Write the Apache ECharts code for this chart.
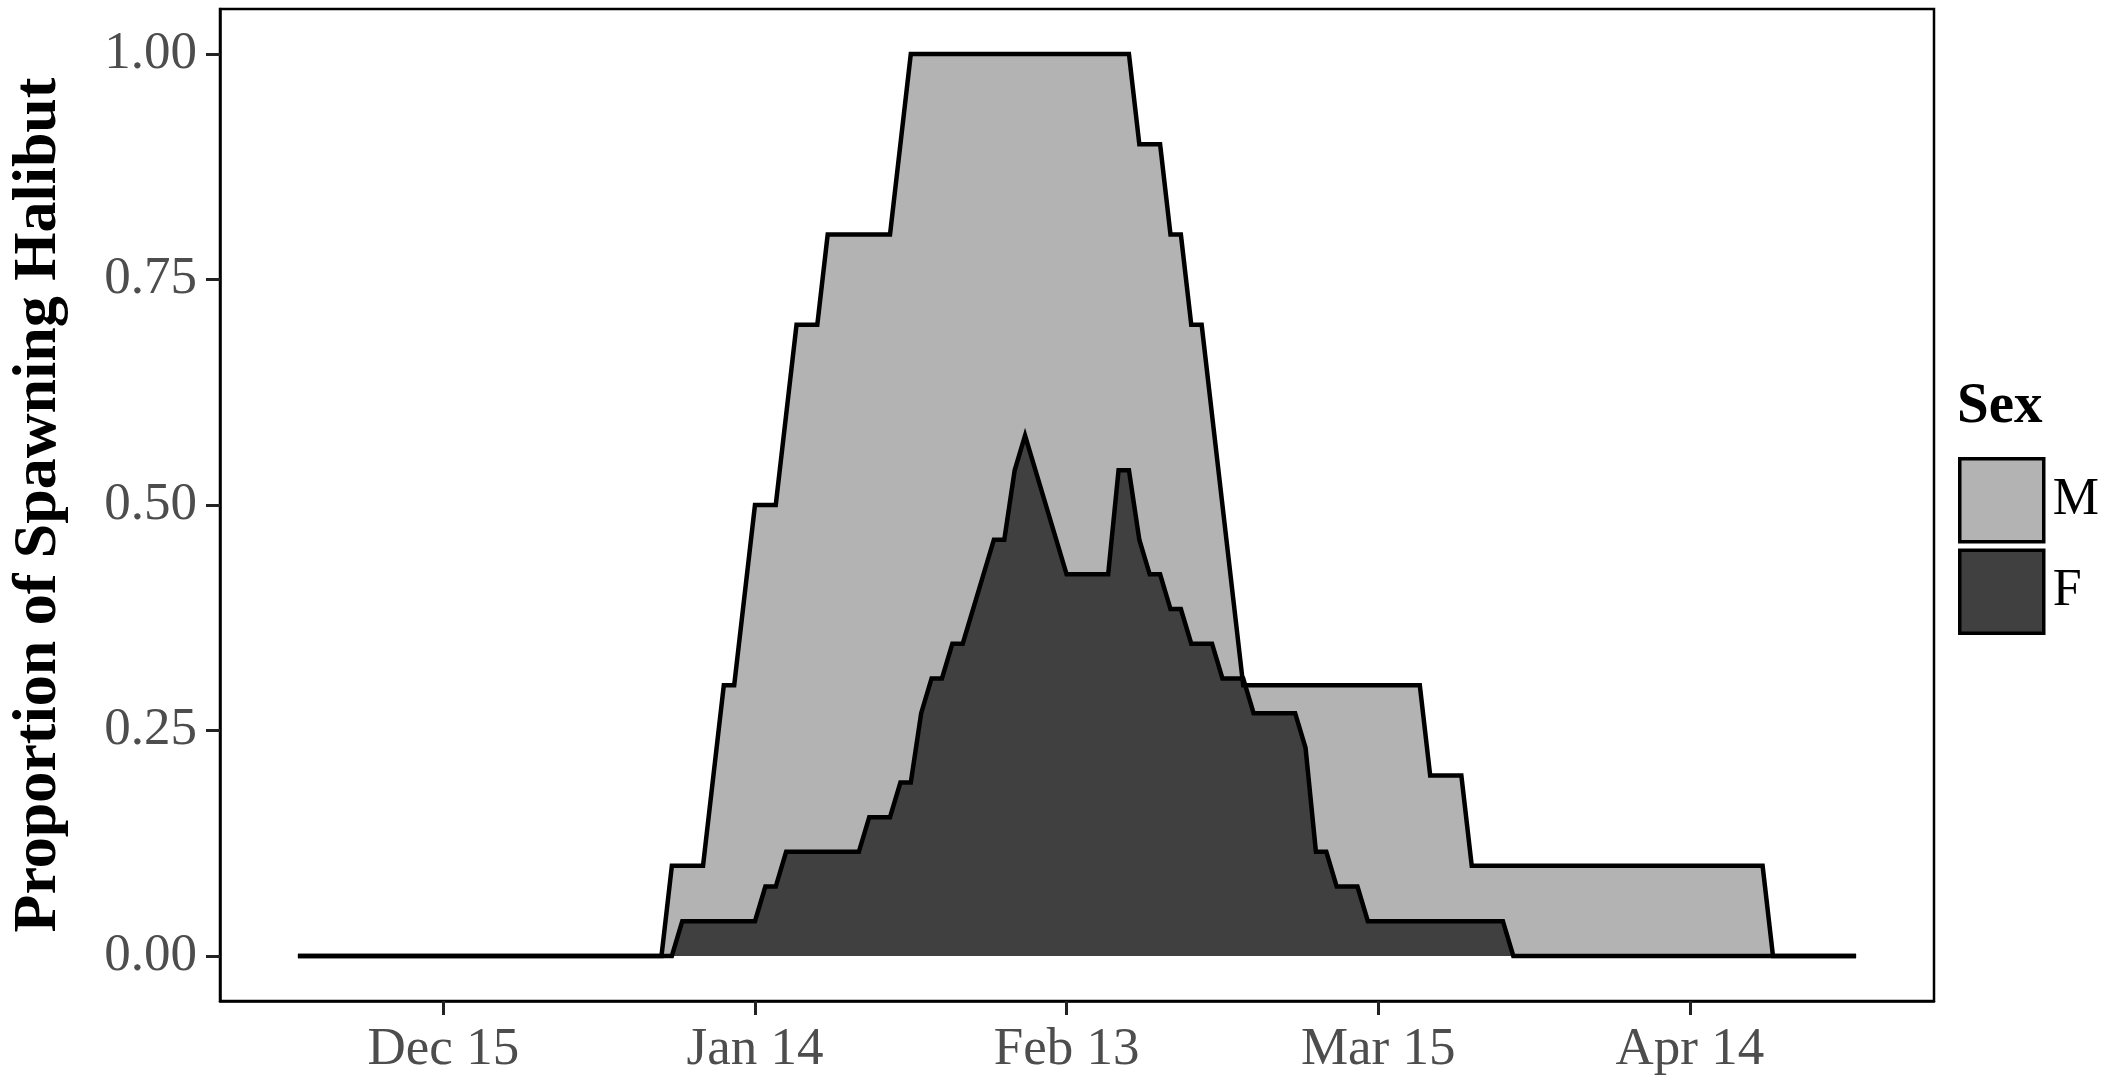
<!DOCTYPE html>
<html><head><meta charset="utf-8">
<script src="https://cdn.jsdelivr.net/npm/echarts@6/dist/echarts.min.js"></script>
<style>html,body{margin:0;padding:0;background:#fff}#c{width:2128px;height:1084px}</style>
</head><body><div id="c"></div>
<script>
// x = days counted from Dec 15 (negative = earlier in December)
const tickDays = [0, 30, 60, 90, 120];
const tickLabels = ['Dec 15', 'Jan 14', 'Feb 13', 'Mar 15', 'Apr 14'];
const yTicks = [0, 0.25, 0.5, 0.75, 1];
const yTickLabels = ['0.00', '0.25', '0.50', '0.75', '1.00'];

// Male: vertices of the proportion curve
const maleDays = [-14, 21, 22, 25, 27, 28, 30, 32, 34, 36, 37, 43, 45, 66, 67, 69, 70, 71, 72, 73, 77, 94, 95, 98, 99, 127, 128, 136];
const maleProp = [0, 0, 0.1, 0.1, 0.3, 0.3, 0.5, 0.5, 0.7, 0.7, 0.8, 0.8, 1.0, 1.0, 0.9, 0.9, 0.8, 0.8, 0.7, 0.7, 0.3, 0.3, 0.2, 0.2, 0.1, 0.1, 0, 0];

// Female: vertices of the proportion curve
const femaleDays = [-14, 22, 23, 30, 31, 32, 33, 40, 41, 43, 44, 45, 46, 47, 48, 49, 50, 53, 54, 55, 56, 60, 64, 65, 66, 67, 68, 69, 70, 71, 72, 74, 75, 77, 78, 82, 83, 84, 85, 86, 88, 89, 102, 103, 136];
const femaleProp = [0, 0, 0.0385, 0.0385, 0.0769, 0.0769, 0.1154, 0.1154, 0.1538, 0.1538, 0.1923, 0.1923, 0.2692, 0.3077, 0.3077, 0.3462, 0.3462, 0.4615, 0.4615, 0.5385, 0.5769, 0.4231, 0.4231, 0.5385, 0.5385, 0.4615, 0.4231, 0.4231, 0.3846, 0.3846, 0.3462, 0.3462, 0.3077, 0.3077, 0.2692, 0.2692, 0.2308, 0.1154, 0.1154, 0.0769, 0.0769, 0.0385, 0.0385, 0, 0];

const seriesNames = ['M', 'F'];
const fills = ['#b3b3b3', '#404040'];

const FONT = 'Liberation Serif';
const chart = echarts.init(document.getElementById('c'), null, {renderer: 'canvas'});

const zip = (xs, ys) => xs.map((x, i) => [x, ys[i]]);

chart.setOption({
  animation: false,
  backgroundColor: '#fff',
  title: {
    text: 'Sex', left: 1952, top: 374,
    textStyle: {fontFamily: FONT, fontWeight: 'bold', fontSize: 57, color: '#000'}
  },
  legend: {
    orient: 'vertical', left: 1953, top: 452,
    itemWidth: 84, itemHeight: 83, itemGap: 5,
    icon: 'rect',
    data: seriesNames,
    itemStyle: {borderColor: '#000', borderWidth: 3.5},
    textStyle: {fontFamily: FONT, fontSize: 52, color: '#000', padding: [0, 0, 0, 4]}
  },
  grid: {
    left: 213, top: 9, width: 1721, height: 992,
    show: true, borderColor: '#000', borderWidth: 2.5, backgroundColor: '#fff'
  },
  xAxis: {
    type: 'value', min: -21.5, max: 143.5,
    axisLine: {show: true, onZero: false, lineStyle: {color: '#000', width: 2.5}},
    axisTick: {show: true, customValues: tickDays, length: 14, lineStyle: {color: '#222', width: 3}},
    axisLabel: {
      customValues: tickDays,
      formatter: v => tickLabels[tickDays.indexOf(v)],
      fontFamily: FONT, fontSize: 53, color: '#4d4d4d', margin: 23
    },
    splitLine: {show: false}
  },
  yAxis: {
    type: 'value', min: -0.05, max: 1.05,
    name: 'Proportion of Spawning Halibut', nameLocation: 'middle', nameGap: 150,
    nameTextStyle: {fontFamily: FONT, fontWeight: 'bold', fontSize: 62, color: '#000'},
    axisLine: {show: true, onZero: false, lineStyle: {color: '#000', width: 2.5}},
    axisTick: {show: true, customValues: yTicks, length: 14, lineStyle: {color: '#222', width: 3}},
    axisLabel: {
      customValues: yTicks,
      formatter: v => yTickLabels[yTicks.indexOf(v)],
      fontFamily: FONT, fontSize: 53, color: '#4d4d4d', margin: 23
    },
    splitLine: {show: false}
  },
  series: [
    {
      name: seriesNames[0], type: 'line', data: zip(maleDays, maleProp),
      showSymbol: false, symbol: 'none',
      itemStyle: {color: fills[0]},
      lineStyle: {color: '#000', width: 4.5, join: 'miter'},
      areaStyle: {color: fills[0], opacity: 1}
    },
    {
      name: seriesNames[1], type: 'line', data: zip(femaleDays, femaleProp),
      showSymbol: false, symbol: 'none',
      itemStyle: {color: fills[1]},
      lineStyle: {color: '#000', width: 4.5, join: 'miter'},
      areaStyle: {color: fills[1], opacity: 1}
    }
  ]
});
</script></body></html>
